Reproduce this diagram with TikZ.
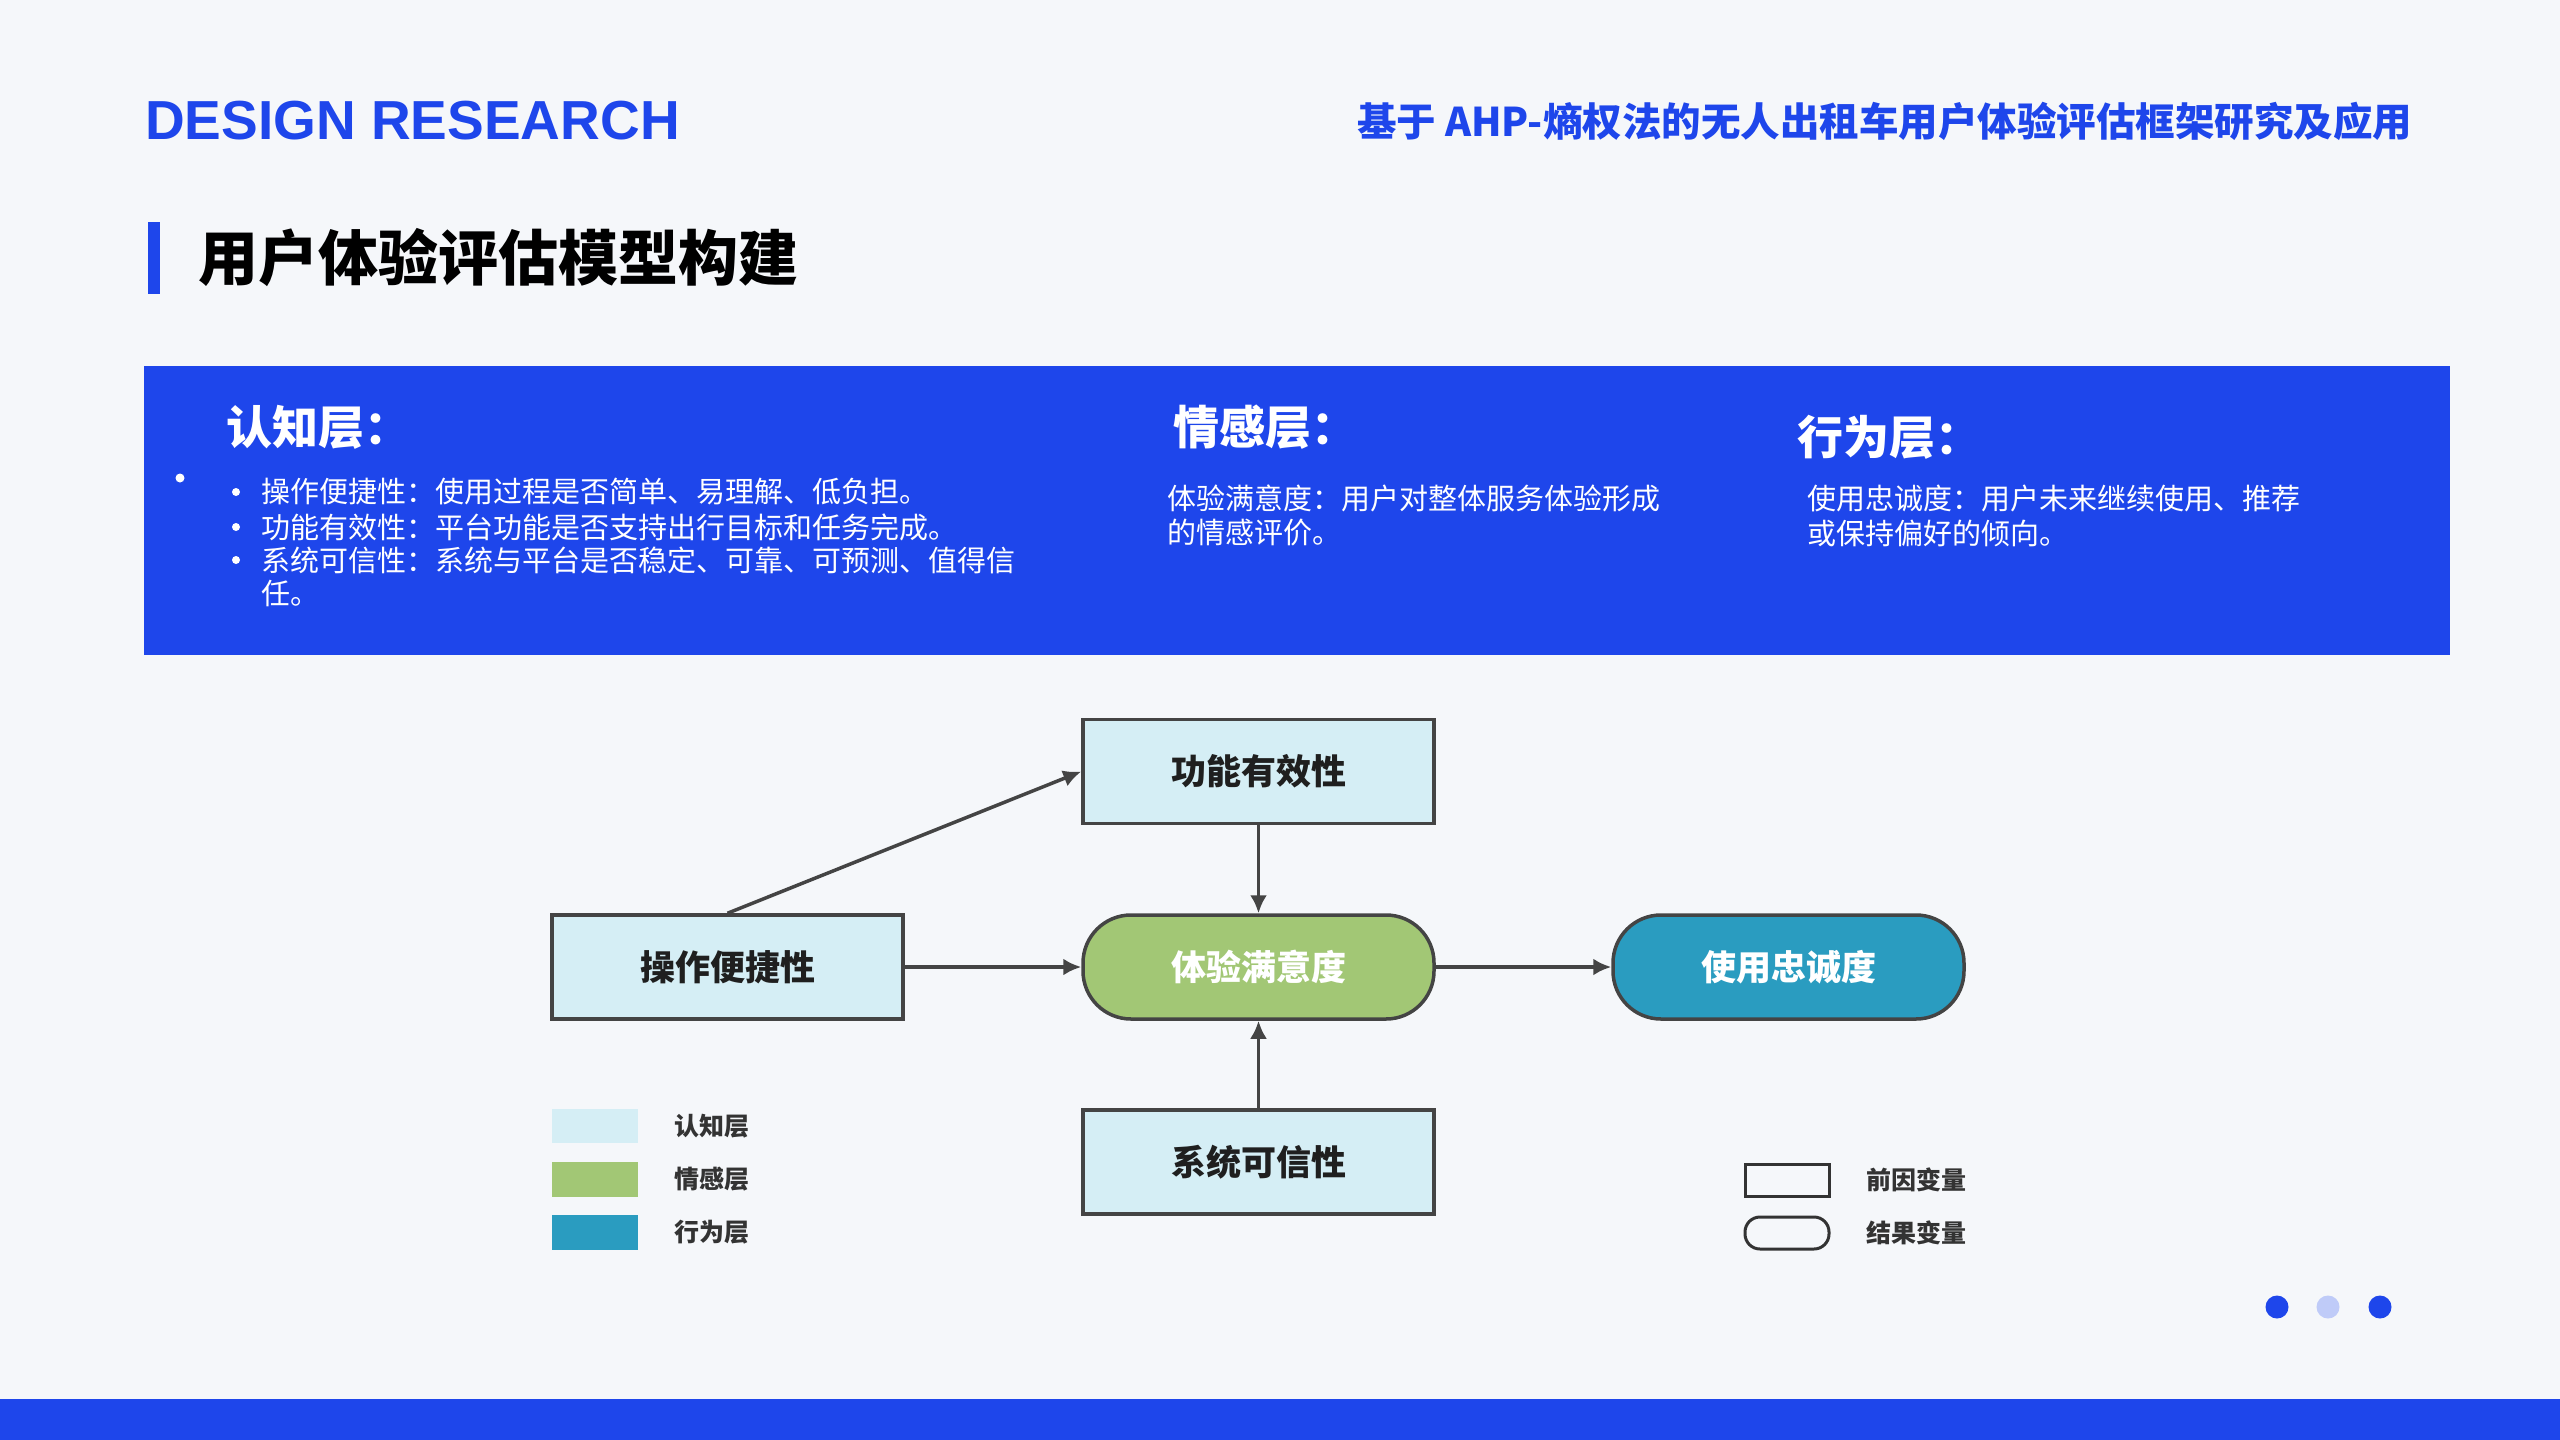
\documentclass[tikz,border=0pt]{standalone}
\usepackage{fontspec}
\setmainfont{Liberation Sans}
\newfontfamily\cjk{Noto Sans CJK SC}
\usetikzlibrary{arrows.meta}
\definecolor{brand}{HTML}{1E46EB}
\definecolor{pagebg}{HTML}{F5F7FA}
\definecolor{lightdot}{HTML}{BFCBF8}
\definecolor{cogfill}{HTML}{D5EEF5}
\definecolor{emofill}{HTML}{A2C775}
\definecolor{behfill}{HTML}{2A9CC0}
\definecolor{edge}{HTML}{444444}
\definecolor{legtext}{HTML}{333333}
\newcommand\pxsize[1]{\fontsize{#1}{#1}\selectfont}
\tikzset{
  txt/.style={inner sep=0pt, outer sep=0pt, anchor=west},
  paneltext/.style={txt, text=white, font=\cjk\pxsize{29}},
  panelhead/.style={txt, text=white, font=\cjk\bfseries\pxsize{46}},
  box/.style={draw=edge, line width=3.5pt, minimum width=351pt, minimum height=104pt, inner sep=0pt, font=\cjk\bfseries\pxsize{35}},
  cogbox/.style={box, fill=cogfill, text=black!88},
  emobox/.style={box, fill=emofill, rounded corners=48pt, text=white},
  behbox/.style={box, fill=behfill, rounded corners=48pt, text=white},
  conn/.style={draw=edge, line width=3.5pt, -{Latex[length=18pt,width=17pt]}},
  legtxt/.style={txt, text=legtext, font=\cjk\bfseries\pxsize{25}},
  dot/.style={circle, minimum size=23pt, inner sep=0pt},
}
\begin{document}
\begin{tikzpicture}[x=1pt,y=-1pt]
\useasboundingbox (0,0) rectangle (2560,1440);
\fill[pagebg] (0,0) rectangle (2560,1440);

% header
\node[txt, anchor=base west, text=brand, font=\bfseries\pxsize{55}] (brandname) at (145,139) {DESIGN RESEARCH};
\node[txt, anchor=east, text=brand, font=\cjk\bfseries\pxsize{39.5}] (subtitle) at (2412,121) {基于 AHP-熵权法的无人出租车用户体验评估框架研究及应用};
\fill[brand] (148,222) rectangle (160,294);
\node[txt, text=black, font=\cjk\bfseries\pxsize{60}] (title) at (198,258) {用户体验评估模型构建};

% blue panel
\fill[brand] (144,366) rectangle (2450,655);
\node[panelhead] (h1) at (226,427) {认知层：};
\node[panelhead] (h2) at (1173,427) {情感层：};
\node[panelhead] (h3) at (1797,437) {行为层：};
\fill[white] (180,478) circle (4.5);
\fill[white] (236,492) circle (4);
\fill[white] (236,527) circle (4);
\fill[white] (236,560) circle (4);
\node[paneltext] (l1) at (261,492) {操作便捷性：使用过程是否简单、易理解、低负担。};
\node[paneltext] (l2) at (261,527) {功能有效性：平台功能是否支持出行目标和任务完成。};
\node[paneltext] (l3) at (261,560) {系统可信性：系统与平台是否稳定、可靠、可预测、值得信};
\node[paneltext] (l4) at (261,593) {任。};
\node[paneltext] (m1) at (1167,498) {体验满意度：用户对整体服务体验形成};
\node[paneltext] (m2) at (1167,533) {的情感评价。};
\node[paneltext] (r1) at (1807,498) {使用忠诚度：用户未来继续使用、推荐};
\node[paneltext] (r2) at (1807,533) {或保持偏好的倾向。};

% diagram
\node[cogbox] (func) at (1258.5,771.5) {功能有效性};
\node[cogbox] (oper) at (727.5,967) {操作便捷性};
\node[emobox] (sat) at (1258.5,967) {体验满意度};
\node[behbox] (loy) at (1788.5,967) {使用忠诚度};
\node[cogbox] (sys) at (1258.5,1162) {系统可信性};

\draw[conn] (oper.north) -- (func.west);
\draw[conn] (func.south) -- (sat.north);
\draw[conn] (oper.east) -- (sat.west);
\draw[conn] (sat.east) -- (loy.west);
\draw[conn] (sys.north) -- (sat.south);

% legend left
\fill[cogfill] (552,1109) rectangle (638,1143);
\fill[emofill] (552,1162) rectangle (638,1197);
\fill[behfill] (552,1215) rectangle (638,1250);
\node[legtxt] (lg1) at (674,1126) {认知层};
\node[legtxt] (lg2) at (674,1179) {情感层};
\node[legtxt] (lg3) at (674,1232) {行为层};

% legend right
\draw[legtext, line width=3pt] (1745,1164) rectangle (1829,1196);
\draw[legtext, line width=3pt, rounded corners=15pt] (1745,1217) rectangle (1829,1249);
\node[legtxt] (lg4) at (1866,1180) {前因变量};
\node[legtxt] (lg5) at (1866,1233) {结果变量};

% page dots
\node[dot, fill=brand] (d1) at (2277,1307) {};
\node[dot, fill=lightdot] (d2) at (2328,1307) {};
\node[dot, fill=brand] (d3) at (2380,1307) {};

% bottom bar
\fill[brand] (0,1399) rectangle (2560,1440);
\end{tikzpicture}
\end{document}
